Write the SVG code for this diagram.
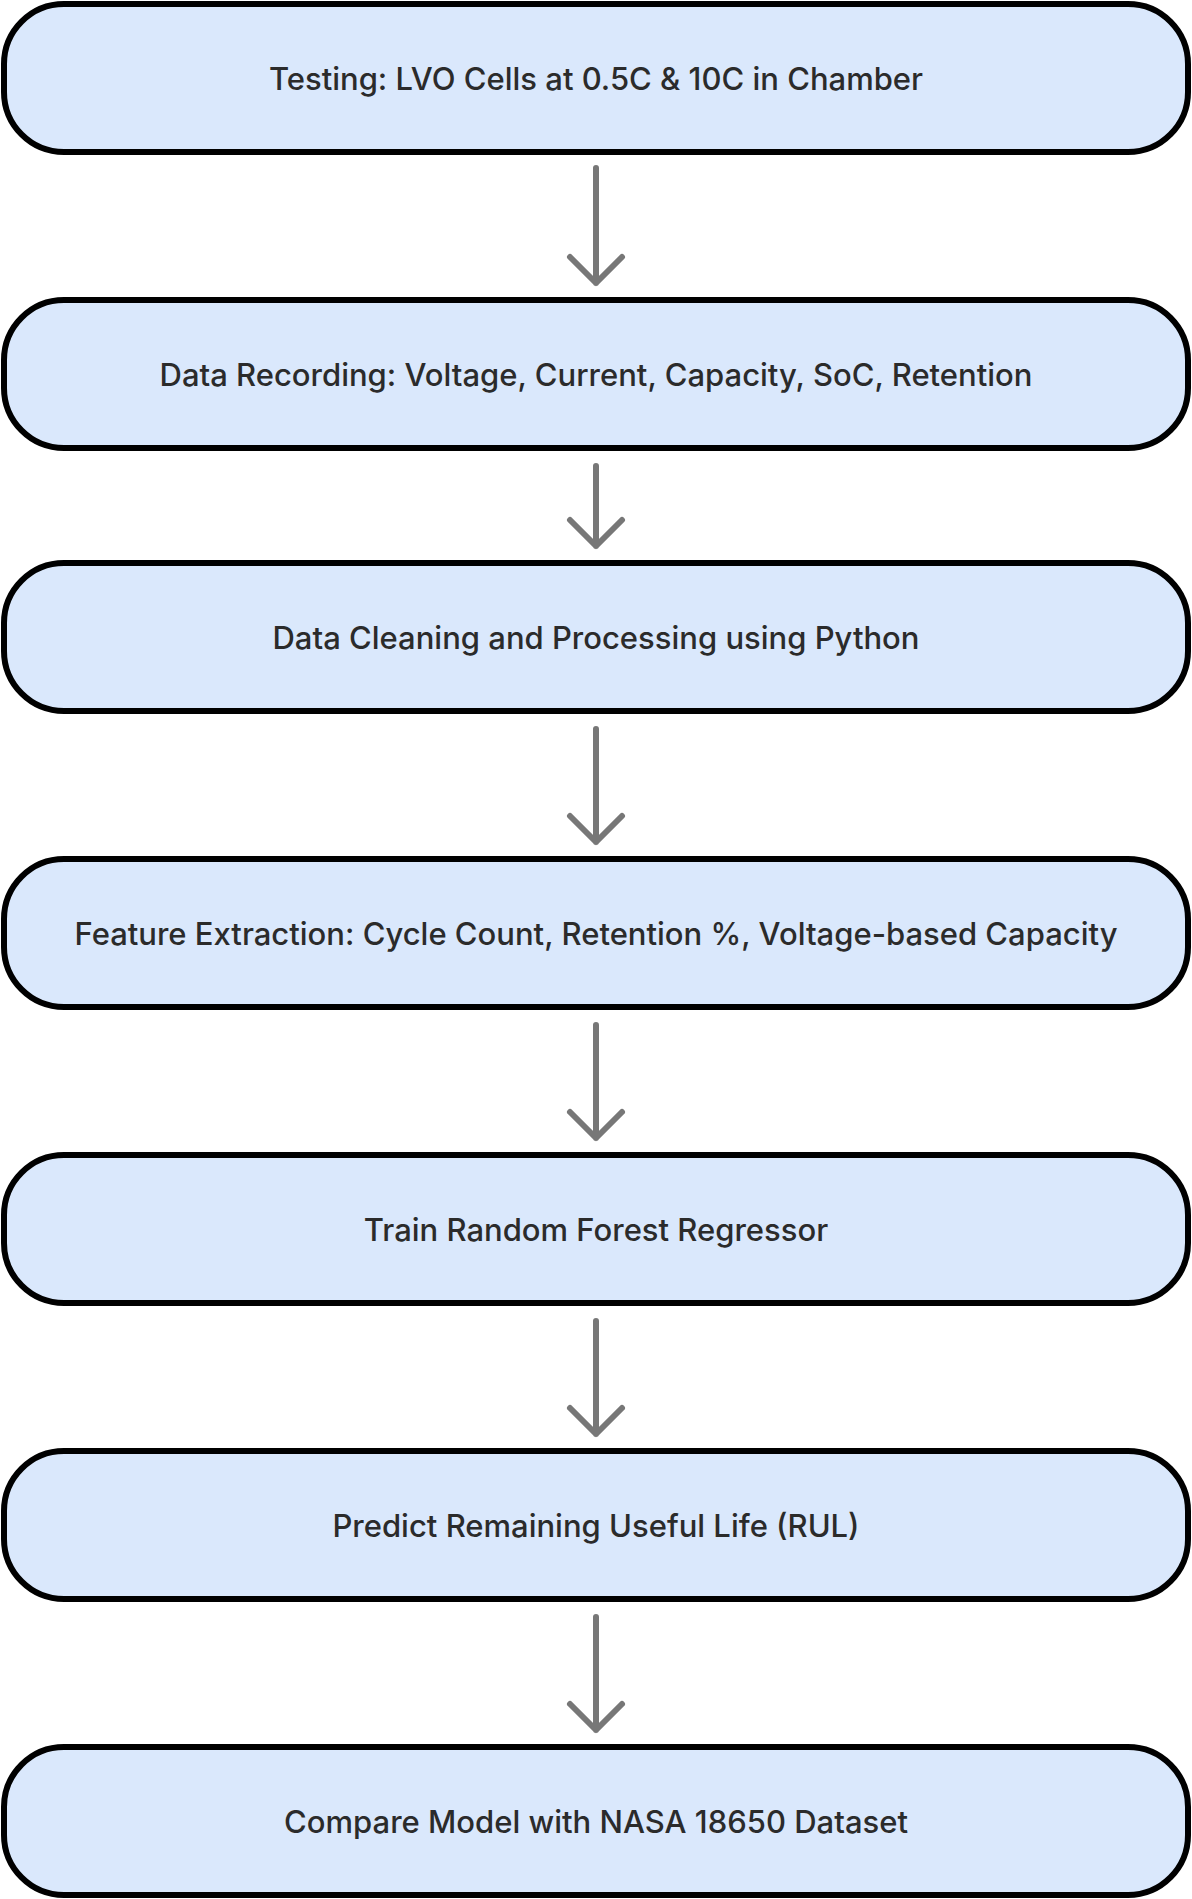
<svg xmlns="http://www.w3.org/2000/svg" width="1192" height="1899" viewBox="0 0 1192 1899">
<style>
.n{fill:#dae8fc;stroke:#000;stroke-width:6}
.t{font-family:Inter,"Liberation Sans",sans-serif;font-size:31px;font-weight:500;fill:#2b2b2b;text-anchor:middle;dominant-baseline:central}
.c{stroke:#777;stroke-width:6;fill:none;stroke-linecap:round;stroke-linejoin:round}
</style>
<rect width="1192" height="1899" fill="#fff"/>
<g id="connectors">
<path class="c" d="M596 168V283M570 257L596 283L622 257"/>
<path class="c" d="M596 466V546M570 520L596 546L622 520"/>
<path class="c" d="M596 729V842M570 816L596 842L622 816"/>
<path class="c" d="M596 1025V1138M570 1112L596 1138L622 1112"/>
<path class="c" d="M596 1321V1434M570 1408L596 1434L622 1408"/>
<path class="c" d="M596 1617V1730M570 1704L596 1730L622 1704"/>
</g>
<g id="n1"><rect class="n" x="4" y="4" width="1184" height="148" rx="60"/><text class="t" x="596" y="78">Testing: LVO Cells at 0.5C &amp; 10C in Chamber</text></g>
<g id="n2"><rect class="n" x="4" y="300" width="1184" height="148" rx="60"/><text class="t" x="596" y="374">Data Recording: Voltage, Current, Capacity, SoC, Retention</text></g>
<g id="n3"><rect class="n" x="4" y="563" width="1184" height="148" rx="60"/><text class="t" x="596" y="637">Data Cleaning and Processing using Python</text></g>
<g id="n4"><rect class="n" x="4" y="859" width="1184" height="148" rx="60"/><text class="t" x="596" y="933">Feature Extraction: Cycle Count, Retention %, Voltage-based Capacity</text></g>
<g id="n5"><rect class="n" x="4" y="1155" width="1184" height="148" rx="60"/><text class="t" x="596" y="1229">Train Random Forest Regressor</text></g>
<g id="n6"><rect class="n" x="4" y="1451" width="1184" height="148" rx="60"/><text class="t" x="596" y="1525">Predict Remaining Useful Life (RUL)</text></g>
<g id="n7"><rect class="n" x="4" y="1747" width="1184" height="148" rx="60"/><text class="t" x="596" y="1821">Compare Model with NASA 18650 Dataset</text></g>
</svg>
